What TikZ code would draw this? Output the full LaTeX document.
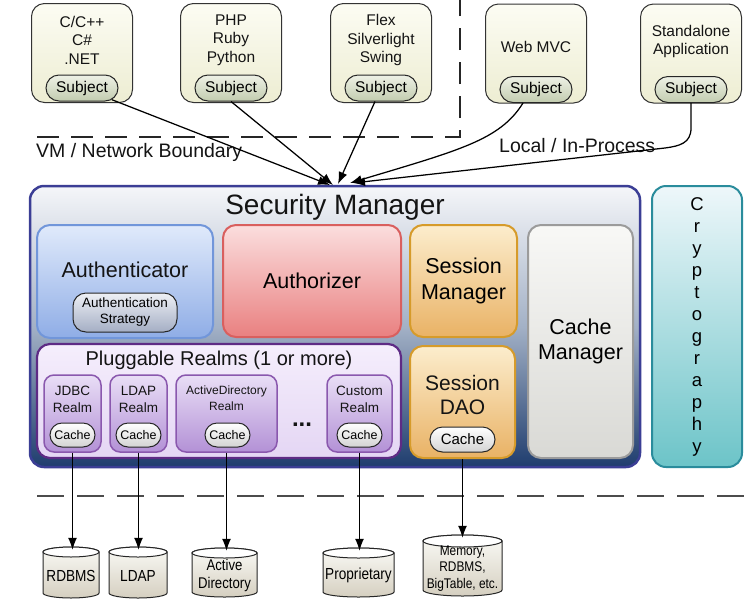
\documentclass[tikz,border=0pt]{standalone}
\usepackage{fontspec}
\setmainfont{Liberation Sans}
\newfontfamily\narrowfont[FakeStretch=0.85]{Liberation Sans}
\usetikzlibrary{arrows.meta,shapes.misc}
\definecolor{tbT}{HTML}{FCFCF3}\definecolor{tbB}{HTML}{EDEDD2}
\definecolor{sjT}{HTML}{EEF1E6}\definecolor{sjB}{HTML}{C2CCAF}
\definecolor{smT}{HTML}{F5F6F9}\definecolor{smM}{HTML}{A3B1C6}\definecolor{smB}{HTML}{1F3D6E}\definecolor{smL}{HTML}{3B3E95}
\definecolor{auT}{HTML}{E0EAFB}\definecolor{auB}{HTML}{8FADE6}\definecolor{auL}{HTML}{7196DA}
\definecolor{azT}{HTML}{FBDEDE}\definecolor{azB}{HTML}{E98080}\definecolor{azL}{HTML}{D95F5E}
\definecolor{seT}{HTML}{FCEDCD}\definecolor{seB}{HTML}{E9B265}\definecolor{seL}{HTML}{D69B2A}
\definecolor{cmT}{HTML}{F8F8F6}\definecolor{cmB}{HTML}{D9D9D5}\definecolor{cmL}{HTML}{9B9B9B}
\definecolor{prT}{HTML}{F5EEFC}\definecolor{prB}{HTML}{E4D6F4}\definecolor{prL}{HTML}{5E2B85}
\definecolor{rlT}{HTML}{E9DEF6}\definecolor{rlB}{HTML}{B391D6}\definecolor{rlL}{HTML}{8A58AE}
\definecolor{crT}{HTML}{EEF7FA}\definecolor{crB}{HTML}{6CC4C8}\definecolor{crL}{HTML}{2A8C9C}
\definecolor{stT}{HTML}{EEF0F5}\definecolor{stB}{HTML}{A4AEC4}
\definecolor{chB}{HTML}{D3D3D3}
\definecolor{drT}{HTML}{FAFAF6}\definecolor{drB}{HTML}{D5CFC0}
\newcommand\fs[2]{\fontsize{#1}{#2}\selectfont}
% name, cx, ytop, ybot, radius, ellipse radius, font, text
\newcommand\drum[8]{%
  \draw[line width=1pt,draw=black!85,top color=drT,bottom color=drB]
    (#2-#5,#3) -- (#2-#5,#4) arc[start angle=180,end angle=360,x radius=#5pt,y radius=#6pt]
    -- (#2+#5,#3) arc[start angle=0,end angle=180,x radius=#5pt,y radius=#6pt] -- cycle;
  \draw[line width=1pt,draw=black!85,fill=white] (#2,#3) ellipse[x radius=#5pt,y radius=#6pt];
  \node[inner sep=0pt,minimum width=2*#5pt,minimum height=#4-#3+2*#6pt,align=center,font=#7] (#1) at (#2,{(#3+#4)/2+3}) {#8};}
\begin{document}
\begin{tikzpicture}[x=1pt,y=-1pt,
  txt/.style={align=center,inner sep=0pt,text=black!92},
  topbox/.style={draw=black!80,line width=1pt,rounded corners=13pt,top color=tbT,bottom color=tbB,minimum width=101pt,minimum height=99pt,inner sep=0pt},
  subj/.style={draw=black!85,line width=1pt,rounded rectangle,top color=sjT,bottom color=sjB,minimum width=72pt,minimum height=26pt,inner sep=0pt,font=\fs{15.5}{15.5}},
  cachepill/.style={draw=black!85,line width=1pt,rounded rectangle,top color=white,bottom color=chB,minimum width=45pt,minimum height=24pt,inner sep=0pt,font=\fs{12.5}{12.5}},
  inbox/.style={line width=2pt,rounded corners=13pt,inner sep=0pt},
  realm/.style={draw=rlL,line width=1.5pt,rounded corners=10pt,top color=rlT,bottom color=rlB,minimum height=77pt,inner sep=0pt},
  arr/.style={line width=1.25pt,-{Latex[length=12pt,width=9pt]}},
  boundary/.style={line width=1.8pt,dash pattern=on 22pt off 12pt}
]
\useasboundingbox (0,0) rectangle (747,603);
\fill[white] (0,0) rectangle (747,603);

% boundary
\draw[boundary,draw=black!85] (37,137) -- (460,137) -- (460,0);
\draw[boundary,draw=black!70,dash pattern=on 27pt off 13pt] (37,496) -- (747,496);
\node[txt,anchor=west,font=\fs{19.5}{20}] (vmlbl) at (36,152) {VM / Network Boundary};
\node[txt,anchor=west,font=\fs{19.5}{20}] (loclbl) at (499,146) {Local / In-Process};

% top boxes
\node[topbox] (b1) at (82,53) {};
\node[topbox] (b2) at (231,53) {};
\node[topbox] (b3) at (381,53) {};
\node[topbox] (b4) at (536,53.5) {};
\node[topbox] (b5) at (691,53.5) {};
\node[txt,font=\fs{15.5}{18.5}] (b1t) at (82,40) {C/C++\\C\#\\.NET};
\node[txt,font=\fs{15.5}{18.5}] (b2t) at (231,40) {PHP\\Ruby\\Python};
\node[txt,font=\fs{15.5}{18.5}] (b3t) at (381,40) {Flex\\Silverlight\\Swing};
\node[txt,font=\fs{15.5}{18.5}] (b4t) at (536,47) {Web MVC};
\node[txt,font=\fs{15.5}{18}] (b5t) at (691,41) {Standalone\\Application};
\node[subj] (s1) at (82,88) {Subject};
\node[subj] (s2) at (231,88) {Subject};
\node[subj] (s3) at (381,88) {Subject};
\node[subj] (s4) at (536,89.5) {Subject};
\node[subj] (s5) at (691,89.5) {Subject};

% security manager
\node[draw=smL,line width=2.5pt,rounded corners=14pt,top color=smT,bottom color=smB,middle color=smM,minimum width=610pt,minimum height=281pt,inner sep=0pt] (sm) at (335,326.5) {};
\node[txt,font=\fs{28}{28}] (smlbl) at (335,207) {Security Manager};

% cryptography
\node[draw=crL,line width=2pt,rounded corners=14pt,top color=crT,bottom color=crB,minimum width=90pt,minimum height=281pt,inner sep=0pt,align=center,font=\fs{18.5}{22}] (crypto) at (697,326.5) {C\\r\\y\\p\\t\\o\\g\\r\\a\\p\\h\\y};

% authenticator
\node[inbox,draw=auL,top color=auT,bottom color=auB,minimum width=176pt,minimum height=113pt] (auth) at (125,281.5) {};
\node[txt,font=\fs{21.5}{21.5}] (authlbl) at (125,270) {Authenticator};
\node[draw=black!85,line width=1pt,rounded corners=13pt,top color=stT,bottom color=stB,minimum width=104pt,minimum height=39pt,inner sep=0pt,align=center,font=\fs{13.5}{16}] (strat) at (125,312.5) {Authentication\\Strategy};

% authorizer
\node[inbox,draw=azL,top color=azT,bottom color=azB,minimum width=178pt,minimum height=112pt,font=\fs{21.5}{21.5}] (authz) at (312,281) {Authorizer};

% session manager
\node[inbox,draw=seL,top color=seT,bottom color=seB,minimum width=107pt,minimum height=112pt,align=center,font=\fs{21.5}{26}] (sesm) at (463.5,281) {Session\\Manager};

% session DAO
\node[inbox,draw=seL,top color=seT,bottom color=seB,minimum width=105pt,minimum height=112pt] (dao) at (462.5,402) {};
\node[txt,font=\fs{21}{24}] (daolbl) at (462.5,395) {Session\\DAO};
\node[cachepill,minimum width=65pt,minimum height=25pt,font=\fs{15}{15}] (daoc) at (462.5,439.5) {Cache};

% cache manager
\node[inbox,draw=cmL,top color=cmT,bottom color=cmB,minimum width=105pt,minimum height=233pt,align=center,font=\fs{21.5}{25}] (cachem) at (580.5,341.5) {Cache\\Manager};

% pluggable realms
\node[draw=prL,line width=2.2pt,rounded corners=13pt,top color=prT,bottom color=prB,minimum width=364pt,minimum height=114pt,inner sep=0pt] (realms) at (219,401) {};
\node[txt,font=\fs{20}{20}] (realmslbl) at (219,360) {Pluggable Realms (1 or more)};

\node[realm,minimum width=57pt] (jdbc) at (72.5,413.5) {};
\node[realm,minimum width=57pt] (ldap) at (138.5,413.5) {};
\node[realm,minimum width=101pt] (ad) at (226.5,413.5) {};
\node[realm,minimum width=65pt] (custom) at (359.5,413.5) {};
\node[txt,font=\fs{13.5}{17}] (jdbct) at (72.5,399.5) {JDBC\\Realm};
\node[txt,font=\fs{13.5}{17}] (ldapt) at (138.5,399.5) {LDAP\\Realm};
\node[txt,font=\fs{12}{15.5}] (adt) at (226.5,398) {ActiveDirectory\\Realm};
\node[txt,font=\fs{13.5}{17}] (customt) at (359.5,399.5) {Custom\\Realm};
\node[cachepill] (c1) at (72.5,435) {Cache};
\node[cachepill] (c2) at (138.5,435) {Cache};
\node[cachepill] (c3) at (227.5,435) {Cache};
\node[cachepill] (c4) at (359.5,435) {Cache};
\node[txt,font=\bfseries\fs{24}{24}] (dots) at (302,425) {...};

% data stores
\drum{rdbms}{71}{552}{593}{28}{5}{\narrowfont\fs{16}{18}}{RDBMS}
\drum{ldapdb}{138}{552}{593}{29}{5}{\narrowfont\fs{16}{18}}{LDAP}
\drum{addb}{224.5}{553}{592}{32.5}{5}{\narrowfont\fs{15.5}{18}}{Active\\Directory}
\drum{propdb}{358.5}{553}{592}{35.5}{5}{\narrowfont\fs{16}{18}}{Proprietary}
\drum{memdb}{462.5}{541}{590}{39.5}{6}{\narrowfont\fs{14}{16.5}}{Memory,\\RDBMS,\\BigTable, etc.}

% connectors from subjects
\coordinate (t1) at (330,185);
\coordinate (t2) at (333,185);
\coordinate (t3) at (338,184);
\coordinate (t4) at (350,183);
\coordinate (t5) at (353,183);
\draw[arr] (s1) -- (t1);
\draw[arr] (s2.south) -- (t2);
\draw[arr] ([xshift=-6pt]s3.south) -- (t3);
\draw[arr] ([xshift=-13pt]s4.south) .. controls (500,140) and (460,150) .. (t4);
\draw[arr] (s5.south) -- ++(0,25) .. controls +(0,15) and +(15,-2) .. (665,148) -- (t5);

% connectors to data stores
\draw[arr] (jdbc.south) -- (jdbc.south |- rdbms.north);
\draw[arr] (ldap.south) -- (ldap.south |- ldapdb.north);
\draw[arr] (ad.south) -- (ad.south |- addb.north);
\draw[arr] (custom.south) -- (custom.south |- propdb.north);
\draw[arr] (dao.south) -- (dao.south |- memdb.north);
\end{tikzpicture}
\end{document}
